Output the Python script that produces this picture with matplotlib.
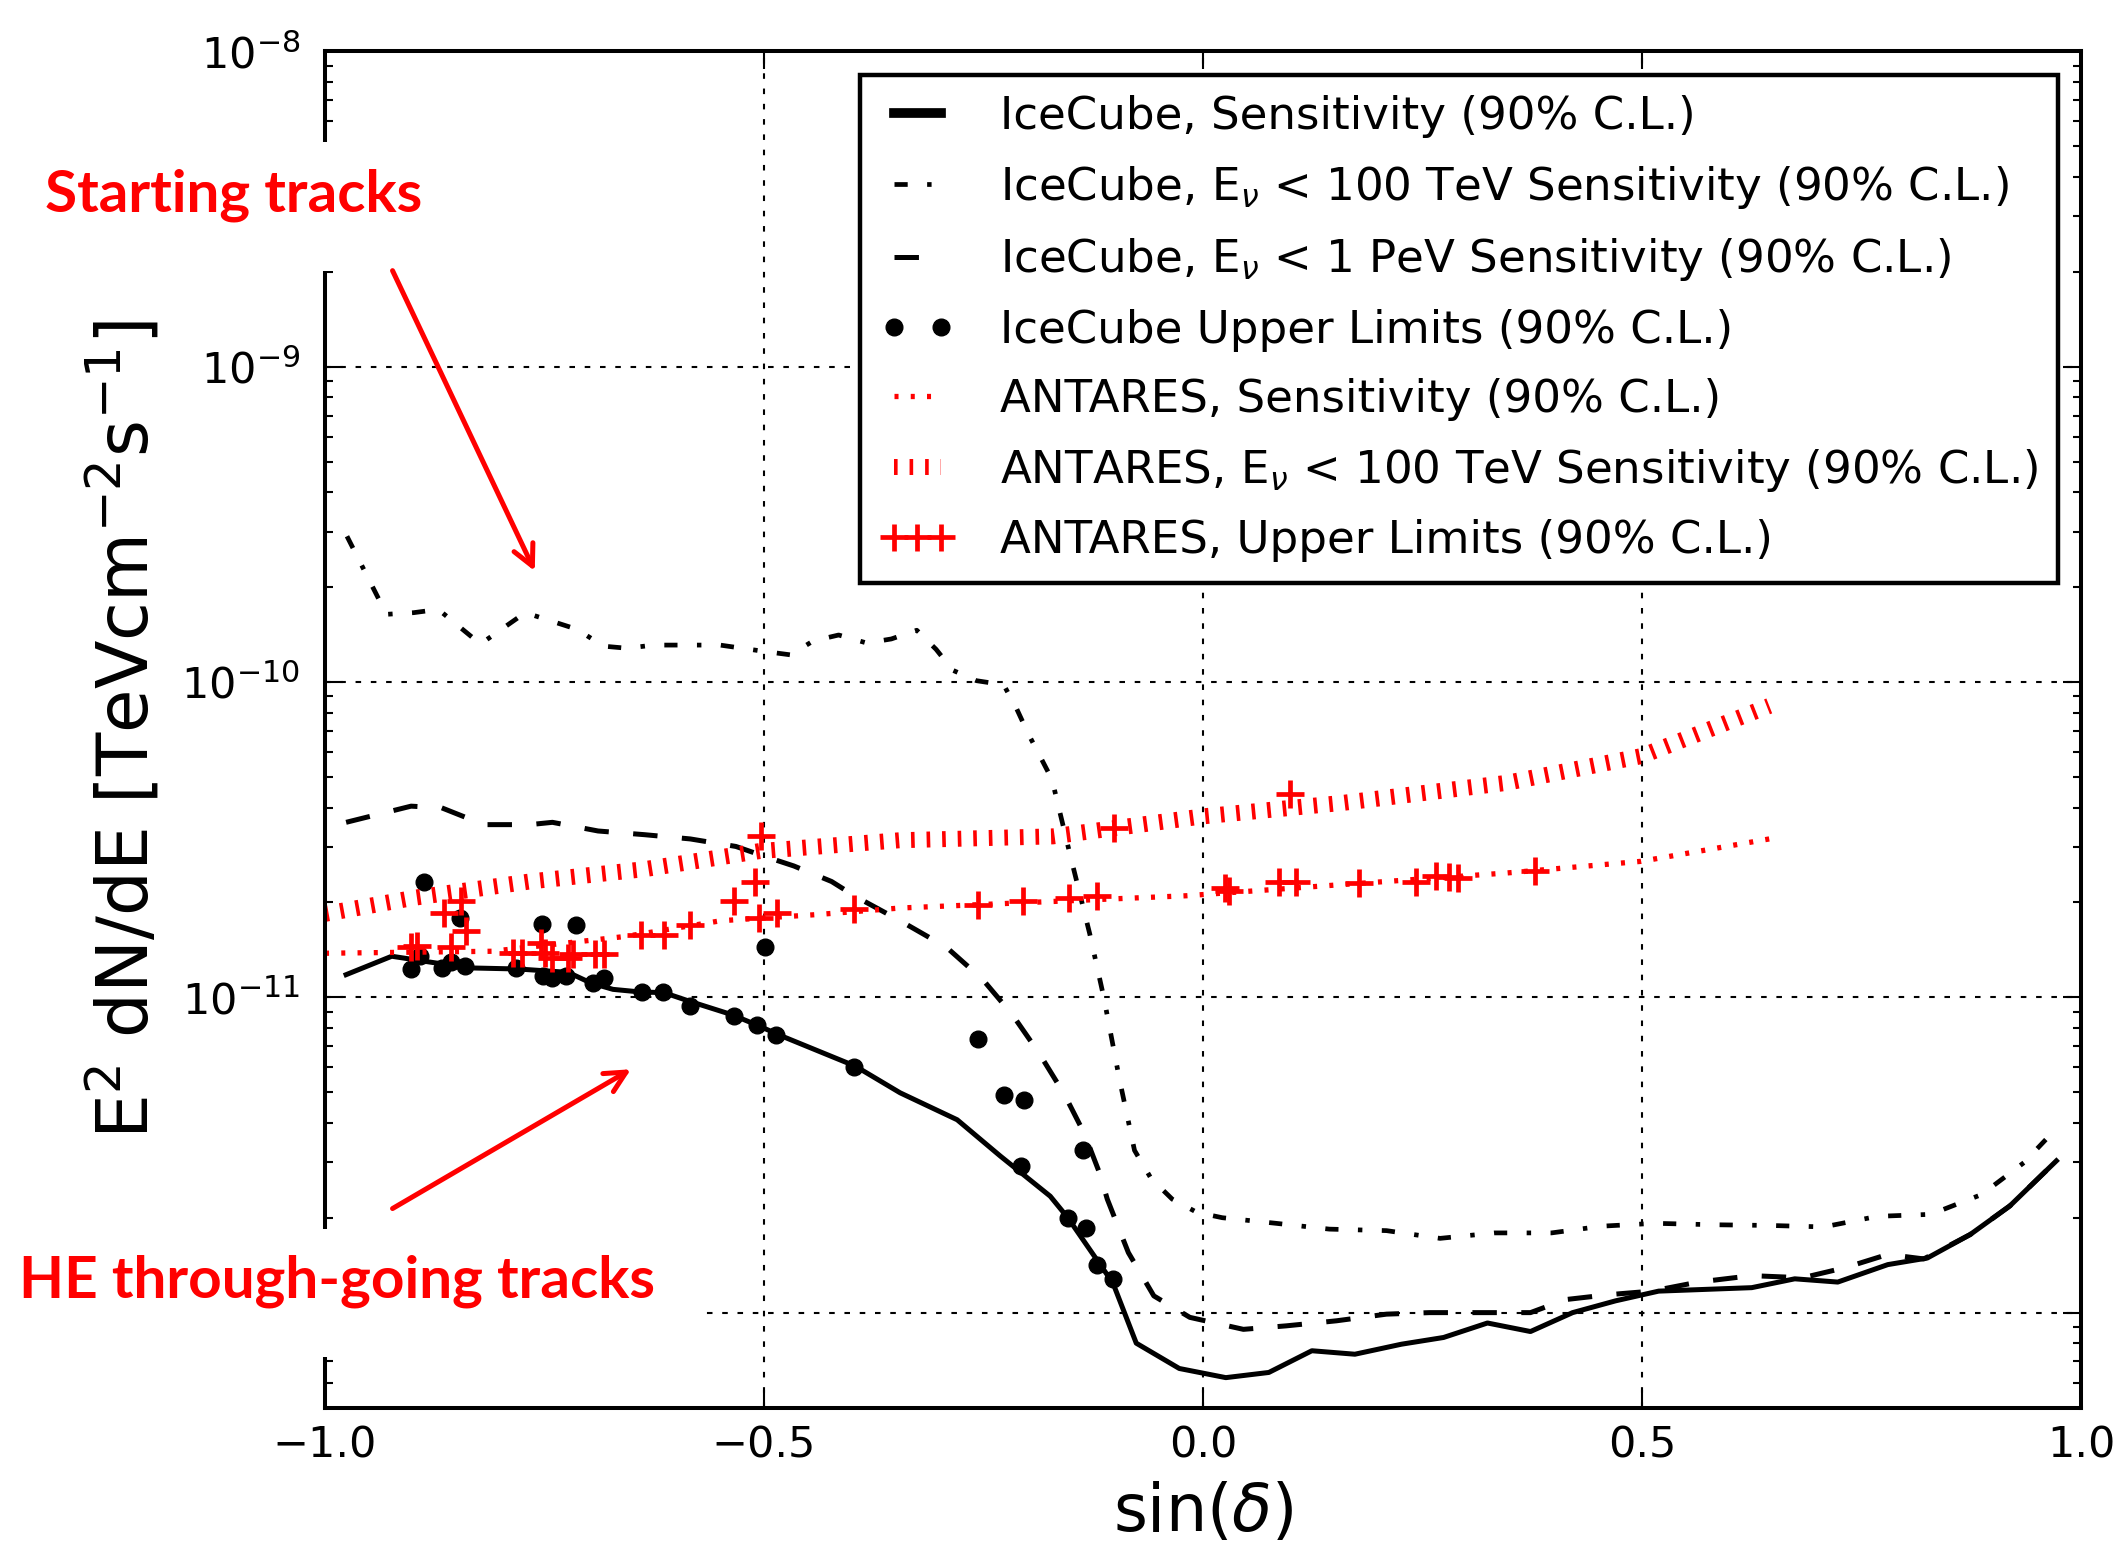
import numpy as np
import matplotlib
matplotlib.use('Agg')
import matplotlib.pyplot as plt
from matplotlib.patches import Rectangle, FancyArrowPatch
from matplotlib.ticker import MultipleLocator, FuncFormatter

plt.rcParams['font.family'] = ['DejaVu Sans']
plt.rcParams['mathtext.fontset'] = 'dejavusans'
plt.rcParams['lines.scale_dashes'] = False

# IceCube sensitivity (solid)
sens_x = [-0.976, -0.924, -0.837, -0.780, -0.723, -0.697, -0.672, -0.641, -0.614, -0.584,
          -0.536, -0.505, -0.483, -0.396, -0.345, -0.280, -0.231, -0.174, -0.154, -0.1025,
          -0.076, -0.027, 0.026, 0.075, 0.124, 0.173, 0.226, 0.274, 0.324, 0.373,
          0.421, 0.470, 0.519, 0.625, 0.674, 0.723, 0.780, 0.825, 0.874, 0.919, 0.972]
sens_y = [1.18e-11, 1.35e-11, 1.24e-11, 1.23e-11, 1.20e-11, 1.11e-11, 1.06e-11, 1.04e-11, 1.035e-11, 9.7e-12,
          8.8e-12, 8.1e-12, 7.6e-12, 6.05e-12, 4.98e-12, 4.09e-12, 3.14e-12, 2.34e-12, 2.0e-12, 1.24e-12,
          8.0e-13, 6.65e-13, 6.22e-13, 6.46e-13, 7.57e-13, 7.38e-13, 7.94e-13, 8.34e-13, 9.27e-13, 8.71e-13,
          1.0e-12, 1.09e-12, 1.17e-12, 1.20e-12, 1.28e-12, 1.25e-12, 1.42e-12, 1.49e-12, 1.77e-12, 2.18e-12, 3.03e-12]

# IceCube E_nu < 100 TeV sensitivity (dash-dot)
e100_x = [-0.975, -0.930, -0.899, -0.871, -0.823, -0.772, -0.713, -0.683, -0.656, -0.626,
          -0.550, -0.499, -0.470, -0.444, -0.415, -0.383, -0.355, -0.326, -0.304, -0.285,
          -0.258, -0.227, -0.212, -0.199, -0.184, -0.172, -0.152, -0.129, -0.113, -0.095,
          -0.078, -0.059, -0.035, -0.007, 0.022, 0.083, 0.144, 0.209, 0.270, 0.332,
          0.397, 0.454, 0.515, 0.581, 0.646, 0.707, 0.768, 0.829, 0.887, 0.935, 0.960]
e100_y = [2.90e-10, 1.64e-10, 1.66e-10, 1.70e-10, 1.32e-10, 1.66e-10, 1.47e-10, 1.30e-10, 1.28e-10, 1.31e-10,
          1.31e-10, 1.25e-10, 1.22e-10, 1.35e-10, 1.41e-10, 1.33e-10, 1.37e-10, 1.46e-10, 1.27e-10, 1.09e-10,
          1.01e-10, 9.8e-11, 8.2e-11, 6.85e-11, 5.70e-11, 4.91e-11, 2.88e-11, 1.59e-11, 1.0e-11, 5.47e-12,
          3.27e-12, 2.66e-12, 2.29e-12, 2.08e-12, 2.0e-12, 1.92e-12, 1.84e-12, 1.82e-12, 1.72e-12, 1.79e-12,
          1.79e-12, 1.88e-12, 1.92e-12, 1.90e-12, 1.89e-12, 1.87e-12, 2.02e-12, 2.05e-12, 2.37e-12, 2.99e-12, 3.54e-12]

# IceCube E_nu < 1 PeV sensitivity (dashed)
e1p_x = [-0.976, -0.902, -0.867, -0.819, -0.767, -0.741, -0.689, -0.636, -0.584, -0.532,
         -0.501, -0.466, -0.423, -0.396, -0.345, -0.292, -0.251, -0.217, -0.187, -0.158,
         -0.135, -0.118, -0.109, -0.085, -0.056, -0.015, 0.046, 0.095, 0.152, 0.209,
         0.258, 0.315, 0.373, 0.413, 0.462, 0.511, 0.564, 0.625, 0.683, 0.732,
         0.780, 0.821, 0.874, 0.919, 0.972]
e1p_y = [3.59e-11, 4.04e-11, 3.99e-11, 3.53e-11, 3.53e-11, 3.59e-11, 3.37e-11, 3.28e-11, 3.18e-11, 3.01e-11,
         2.81e-11, 2.61e-11, 2.33e-11, 2.09e-11, 1.75e-11, 1.44e-11, 1.14e-11, 8.8e-12, 6.67e-12, 4.93e-12,
         3.69e-12, 2.78e-12, 2.29e-12, 1.55e-12, 1.13e-12, 9.66e-13, 8.85e-13, 9.08e-13, 9.42e-13, 9.89e-13,
         1.0e-12, 1.0e-12, 1.0e-12, 1.10e-12, 1.14e-12, 1.17e-12, 1.25e-12, 1.31e-12, 1.29e-12, 1.39e-12,
         1.53e-12, 1.48e-12, 1.77e-12, 2.18e-12, 3.03e-12]

# IceCube upper limits (dots)
ul_x = [-0.902, -0.892, -0.887, -0.867, -0.857, -0.846, -0.841, -0.783, -0.753, -0.752,
        -0.742, -0.725, -0.714, -0.695, -0.682, -0.639, -0.615, -0.584, -0.534, -0.508,
        -0.499, -0.486, -0.397, -0.256, -0.227, -0.204, -0.207, -0.137, -0.154, -0.133,
        -0.121, -0.102]
ul_y = [1.23e-11, 1.35e-11, 2.32e-11, 1.24e-11, 1.29e-11, 1.78e-11, 1.26e-11, 1.24e-11, 1.71e-11, 1.17e-11,
        1.15e-11, 1.17e-11, 1.69e-11, 1.11e-11, 1.15e-11, 1.04e-11, 1.04e-11, 9.4e-12, 8.7e-12, 8.2e-12,
        1.44e-11, 7.6e-12, 6.0e-12, 7.4e-12, 4.91e-12, 4.71e-12, 2.92e-12, 3.29e-12, 2.0e-12, 1.86e-12,
        1.42e-12, 1.28e-12]

# ANTARES sensitivity (thin red dotted)
ant_x = [-1.0, -0.810, -0.658, -0.549, -0.440, -0.345, -0.019, 0.160, 0.346, 0.499, 0.645]
ant_y = [1.38e-11, 1.40e-11, 1.56e-11, 1.75e-11, 1.83e-11, 1.92e-11, 2.10e-11, 2.28e-11, 2.48e-11, 2.70e-11, 3.18e-11]

# ANTARES E_nu < 100 TeV sensitivity (thick red dotted)
ant100_x = [-1.0, -0.898, -0.767, -0.636, -0.505, -0.345, -0.171, 0.000, 0.160, 0.346, 0.499, 0.645]
ant100_y = [1.84e-11, 2.07e-11, 2.33e-11, 2.55e-11, 2.91e-11, 3.15e-11, 3.24e-11, 3.75e-11, 4.14e-11, 4.79e-11,
            5.82e-11, 8.4e-11]

# ANTARES upper limits (crosses)
antul_x = [-0.902, -0.895, -0.865, -0.845, -0.856, -0.840, -0.786, -0.776, -0.754, -0.749,
           -0.741, -0.723, -0.717, -0.693, -0.682, -0.640, -0.614, -0.584, -0.534, -0.510,
           -0.503, -0.506, -0.485, -0.398, -0.256, -0.205, -0.153, -0.121, -0.101, 0.025,
           0.030, 0.087, 0.099, 0.106, 0.178, 0.243, 0.265, 0.280, 0.291, 0.378]
antul_y = [1.44e-11, 1.45e-11, 1.85e-11, 2.02e-11, 1.44e-11, 1.62e-11, 1.38e-11, 1.38e-11, 1.49e-11, 1.38e-11,
           1.33e-11, 1.33e-11, 1.37e-11, 1.37e-11, 1.37e-11, 1.58e-11, 1.58e-11, 1.70e-11, 2.02e-11, 2.33e-11,
           3.24e-11, 1.79e-11, 1.85e-11, 1.90e-11, 1.97e-11, 2.02e-11, 2.06e-11, 2.09e-11, 3.45e-11, 2.23e-11,
           2.17e-11, 2.33e-11, 4.43e-11, 2.33e-11, 2.30e-11, 2.33e-11, 2.43e-11, 2.41e-11, 2.39e-11, 2.51e-11]

labels = [r'IceCube, Sensitivity (90% C.L.)',
          r'IceCube, E$_\nu$ < 100 TeV Sensitivity (90% C.L.)',
          r'IceCube, E$_\nu$ < 1 PeV Sensitivity (90% C.L.)',
          r'IceCube Upper Limits (90% C.L.)',
          r'ANTARES, Sensitivity (90% C.L.)',
          r'ANTARES, E$_\nu$ < 100 TeV Sensitivity (90% C.L.)',
          r'ANTARES, Upper Limits (90% C.L.)']

fig = plt.figure(figsize=(21.23, 15.51), dpi=100)
ax = fig.add_axes([0.1531, 0.0925, 0.8271, 0.8743])

ax.plot(sens_x, sens_y, color='k', lw=3.6, label=labels[0])
ax.plot(e100_x, e100_y, color='k', lw=3.4, dashes=(9.5, 14, 3.2, 14), label=labels[1])
ax.plot(e1p_x, e1p_y, color='k', lw=3.6, dashes=(17.6, 17.6), label=labels[2])
ax.plot(ul_x, ul_y, 'o', color='k', ms=12, ls='none', label=labels[3])
ax.plot(ant_x, ant_y, color='r', lw=3.8, dashes=(2.9, 8.8), label=labels[4])
ax.plot(ant100_x, ant100_y, color='r', lw=11.5, dashes=(2.6, 8.6), label=labels[5])
ax.scatter(antul_x, antul_y, marker='+', s=400, linewidths=3.4, color='r', label=labels[6], zorder=3)

ax.set_yscale('log')
ax.set_xlim(-1, 1)
ax.set_ylim(5e-13, 1e-8)
ax.xaxis.set_major_locator(MultipleLocator(0.5))
# 10^-12 label sits under the annotation box in the original, so leave it blank
ax.yaxis.set_major_formatter(FuncFormatter(
    lambda v, p: '' if round(np.log10(v)) <= -12 else r'$\mathdefault{10^{%d}}$' % round(np.log10(v))))
ax.grid(True, which='major', color='k', lw=1.5, linestyle=(0, (4, 7)))

ax.tick_params(which='both', direction='in', top=True, right=True, width=1.5)
ax.tick_params(which='major', length=13, labelsize=31, pad=12)
ax.tick_params(axis='y', which='major', pad=18)
ax.tick_params(which='minor', length=6)
for s in ax.spines.values():
    s.set_linewidth(2.9)

ax.set_ylabel(r'E$^2$ dN/dE [TeVcm$^{-2}$s$^{-1}$]', fontsize=51)
ax.yaxis.set_label_coords(-0.092, 0.5)
ax.set_xlabel(r'sin($\delta$)', fontsize=47)
ax.xaxis.set_label_coords(0.5, -0.054)

leg = ax.legend(loc='upper right', bbox_to_anchor=(0.987, 0.983), borderaxespad=0,
                fontsize=32.5, numpoints=2, scatterpoints=3, scatteryoffsets=[0.5],
                handlelength=1.65, handletextpad=1.0, labelspacing=0.57, borderpad=0.45,
                fancybox=False, framealpha=1, edgecolor='k')
leg.get_frame().set_linewidth(3.2)
leg.get_lines()[0].set_linewidth(7)

# white boxes behind the annotations (they hide part of the axes)
fig.add_artist(Rectangle((0, 0.8255), 0.21, 0.0829, transform=fig.transFigure,
                         fc='white', ec='none', zorder=5))
fig.add_artist(Rectangle((0, 0.1248), 0.3304, 0.0829, transform=fig.transFigure,
                         fc='white', ec='none', zorder=5))

fig.text(0.021, 0.8636, 'Starting tracks', color='red', fontsize=42, fontweight='bold',
         family='Lato', va='baseline', zorder=6)
fig.text(0.0089, 0.1634, 'HE through-going tracks', color='red', fontsize=42, fontweight='bold',
         family='Lato', va='baseline', zorder=6)

arrow_style = '->,head_length=0.6,head_width=0.3'
fig.add_artist(FancyArrowPatch((0.1849, 0.8255), (0.2519, 0.6318), transform=fig.transFigure,
                               arrowstyle=arrow_style, mutation_scale=25, color='red', lw=3.6,
                               shrinkA=0, shrinkB=0, zorder=6))
fig.add_artist(FancyArrowPatch((0.1849, 0.2208), (0.2972, 0.3106), transform=fig.transFigure,
                               arrowstyle=arrow_style, mutation_scale=25, color='red', lw=3.6,
                               shrinkA=0, shrinkB=0, zorder=6))

fig.savefig('out.png', dpi=100, facecolor='white')
